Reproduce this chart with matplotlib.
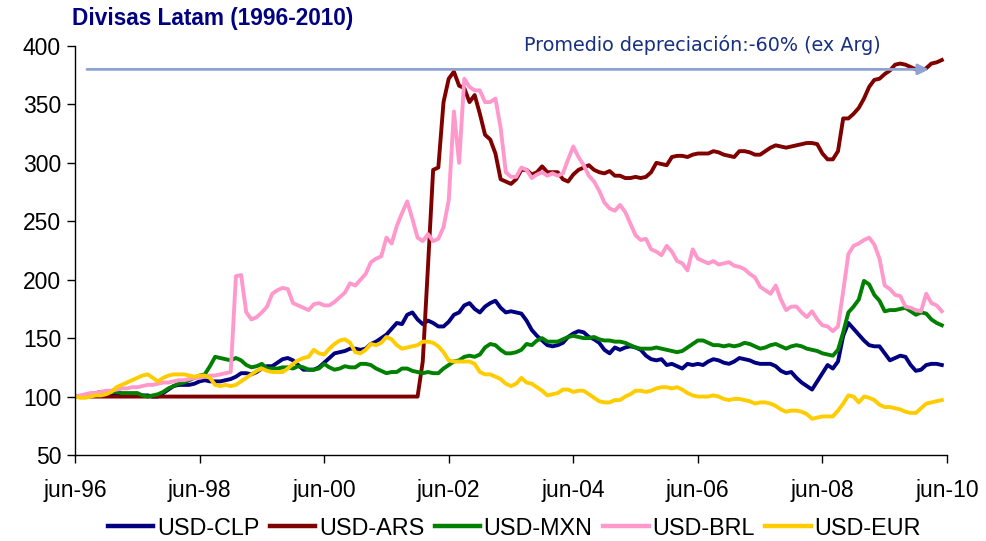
import numpy as np
import matplotlib
matplotlib.use("Agg")
import matplotlib.pyplot as plt

plt.rcParams['font.family'] = ['Liberation Sans', 'DejaVu Sans']

title = "Divisas Latam (1996-2010)"
note = "Promedio depreciación:-60% (ex Arg)"
tick_labels = ["jun-96", "jun-98", "jun-00", "jun-02", "jun-04", "jun-06", "jun-08", "jun-10"]
series_names = ["USD-CLP", "USD-ARS", "USD-MXN", "USD-BRL", "USD-EUR"]
series_colors = ["#000080", "#800000", "#008000", "#FF99CC", "#FFCC00"]

# Monthly index values (jun-96 = 100), months from jun-96
usd_clp = [100, 100, 100, 101, 101, 101, 101, 102, 102, 102, 102, 102, 101, 101, 101, 100, 100,
           103, 106, 109, 110, 110, 110, 111, 113, 114, 113, 113, 113, 114, 115,
           117, 120, 120, 119, 121, 124, 126, 126, 129, 132, 133, 131, 127, 123, 123, 123, 125, 129,
           133, 137, 138, 139, 141, 141, 140, 141, 145, 147,
           150, 153, 158, 163, 162, 170, 172, 166, 162, 165, 163, 160, 160, 164, 170, 172, 178, 180,
           175, 172, 177, 180, 182, 176, 172, 173, 172, 171, 165, 157,
           152, 148, 144, 143, 144, 146, 151, 154, 156, 155, 151, 149, 146, 140, 137, 142, 140, 142,
           143, 142, 140, 135, 132, 131, 132, 127, 128, 126,
           124, 128, 127, 128, 127, 130, 132, 131, 129, 128, 130, 133, 132, 131, 129, 128, 128, 128,
           126, 122, 120, 121, 116, 112, 109, 106, 113, 120, 127, 124, 130,
           152, 163, 158, 153, 148, 144, 143, 143, 137, 131, 133, 135, 134, 127, 122, 123, 127, 128,
           128, 127]

usd_ars = [100] * 67 + [
           130, 211, 294, 296, 352, 372, 378, 366, 364, 352, 358, 342, 324, 320, 308, 286, 284, 282,
           286, 294, 294, 290,
           292, 297, 292, 292, 292, 286, 284, 290, 294, 296, 298, 294, 292, 291, 293, 289, 289, 287,
           287, 288, 287, 288, 292, 300, 299, 298, 305, 306, 306, 305, 307, 308, 308, 308, 310, 309,
           307, 306, 305, 310, 310, 309, 307, 307, 310, 313, 315, 314, 313, 314, 315, 316, 317, 317,
           316, 308, 303, 303, 310,
           338, 338, 342, 347, 355, 365, 371, 372, 376, 379, 384, 385, 384, 382, 380, 379, 381, 385,
           386, 388]

usd_mxn = [100, 100, 101, 102, 103, 104, 104, 104, 104, 103, 103, 103, 103, 101, 100, 101, 102,
           104, 107, 109, 111, 112, 114, 116, 118, 119,
           126, 134, 133, 132, 131, 133, 131, 127, 125, 126, 128, 124, 124, 124, 125, 125, 124, 126,
           125, 123, 123, 124, 128, 125, 123, 124, 126, 125, 125, 128, 128, 127, 124, 122, 120,
           121, 121, 124, 124, 122, 121, 120, 121, 120, 120, 124, 127, 130, 131, 134, 135, 134, 136,
           142, 145, 144, 140, 137, 137, 138, 140, 145, 144,
           148, 150, 147, 147, 147, 149, 151, 152, 151, 150, 150, 151, 149, 148, 148, 147, 147, 146,
           144, 142, 141, 141, 141, 142, 141, 140, 139, 138,
           139, 142, 145, 148, 148, 146, 144, 144, 143, 144, 143, 144, 146, 145, 143, 141, 142, 144,
           145, 143, 141, 143, 144, 143, 141, 140, 139, 137, 136, 135, 140,
           155, 172, 177, 183, 199, 196, 187, 182, 173, 174, 174, 175, 176, 173, 170, 172, 171, 166,
           163, 161]

usd_brl = [100, 101, 102, 103, 103, 104, 105, 105, 106, 107, 107, 108, 108, 109, 110, 110, 111,
           112, 112, 113, 114, 114, 115, 116, 116, 117, 118, 118, 119, 120, 121,
           203, 204, 172, 166, 168, 172, 177, 188, 191, 193, 192, 180, 178, 176, 174, 179, 180, 178,
           178, 181, 185, 189, 197, 195, 200, 205, 215, 218,
           220, 236, 231, 246, 257, 267, 252, 236, 233, 239, 233, 235, 245, 268, 344, 300, 372, 365,
           362, 362, 352, 352, 355, 330, 292, 288, 288, 296, 294, 287,
           290, 292, 289, 291, 289, 291, 303, 314, 305, 298, 289, 284, 276, 266, 261, 259, 264, 258,
           248, 238, 234, 235, 226, 224, 221, 229, 224, 216, 214,
           208, 226, 218, 216, 214, 216, 213, 214, 215, 212, 211, 209, 205, 202, 194, 191, 188, 195,
           183, 174, 177, 177, 172, 168, 173, 166, 161, 160, 156, 160,
           190, 222, 229, 231, 234, 236, 230, 218, 195, 192, 187, 186, 177, 176, 174, 173, 188, 180,
           178, 173]

usd_eur = [100, 99, 99, 100, 101, 101, 102, 104, 108, 110, 112, 114, 116, 118, 119, 116, 113,
           116, 118, 119, 119, 119, 118, 117, 118, 118, 116, 110, 109, 110, 109,
           110, 113, 116, 119, 122, 124, 122, 121, 121, 121, 124, 128, 131, 133, 134, 140, 137, 136,
           141, 145, 148, 149, 146, 138, 137, 140, 145, 144,
           146, 151, 149, 144, 141, 142, 143, 144, 147, 147, 146, 143, 138, 131, 130, 130, 130, 130,
           128, 121, 119, 119, 117, 115, 111, 109, 111, 116, 112, 111,
           108, 105, 101, 102, 103, 106, 106, 104, 105, 105, 102, 99, 96, 95, 95, 97, 97, 100,
           102, 105, 105, 104, 105, 107, 108, 108, 107, 108,
           106, 103, 101, 100, 100, 100, 101, 100, 98, 97, 98, 98, 97, 96, 94, 95, 95, 94,
           92, 89, 87, 88, 88, 87, 85, 81, 82, 83, 83, 83, 88,
           94, 101, 100, 95, 100, 99, 97, 93, 91, 91, 90, 89, 87, 86, 86, 90, 94, 95,
           96, 97]

average_level = 380

series = [usd_clp, usd_ars, usd_mxn, usd_brl, usd_eur]

fig = plt.figure(figsize=(9.87, 5.41), dpi=100)
ax = fig.add_axes([75 / 987, 86 / 541, 872 / 987, 409 / 541])

for name, vals, col in zip(series_names, series, series_colors):
    ax.plot(np.arange(len(vals)), vals, color=col, lw=2.8, label=name, solid_joinstyle='round')

ax.annotate('', xy=(164.5, average_level), xytext=(2.3, average_level),
            arrowprops=dict(arrowstyle='-|>', color='#8FA3D3', lw=2, mutation_scale=16,
                            shrinkA=0, shrinkB=0))
ax.text(120.8, 401, note, ha='center', va='center', fontsize=13.8, color='#17307F',
        family=['DejaVu Sans'])

ax.set_xlim(0, 168)
ax.set_ylim(50, 400)
ax.set_xticks(np.arange(0, 169, 24))
ax.set_xticklabels(tick_labels)
ax.set_yticks(np.arange(50, 401, 50))
ax.tick_params(axis='x', direction='out', length=6, pad=11, labelsize=16.5, width=1)
ax.tick_params(axis='y', direction='out', length=6, pad=4, labelsize=16.5, width=1)
for s in ['top', 'right']:
    ax.spines[s].set_visible(False)
for s in ['left', 'bottom']:
    ax.spines[s].set_linewidth(1)

fig.text(72 / 987, 1 - 19 / 541, title, fontweight='bold', color='#000080', fontsize=16.3,
         va='center', ha='left')

leg = fig.legend(loc='center', bbox_to_anchor=(0.521, 0.024), ncol=5, frameon=False,
                 fontsize=16.8, handlelength=1.95, handletextpad=0.15, columnspacing=0.45)
for line in leg.get_lines():
    line.set_linewidth(3.2)

fig.savefig('out.png', dpi=100)
